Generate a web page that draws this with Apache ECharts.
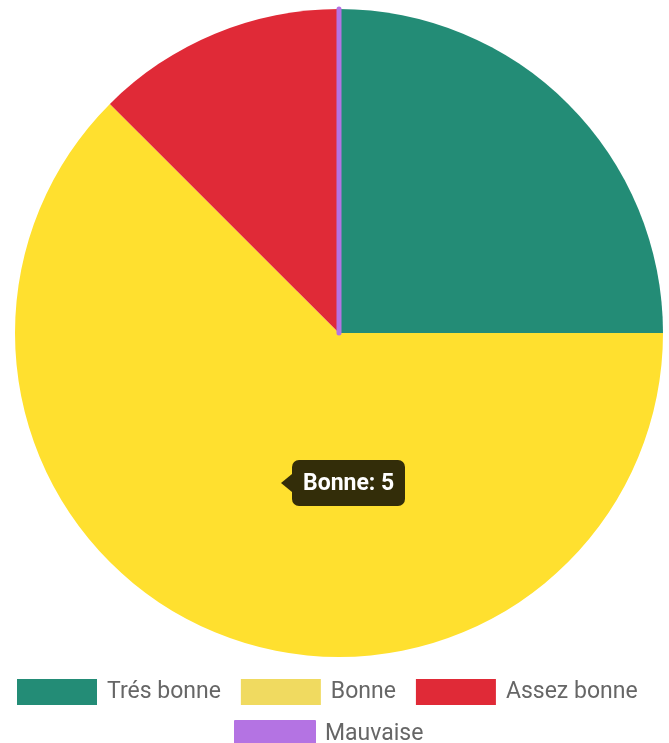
<!DOCTYPE html>
<html>
<head>
<meta charset="utf-8">
<script src="https://cdn.jsdelivr.net/npm/echarts@6/dist/echarts.min.js"></script>
<style>
  html, body { margin: 0; padding: 0; background: #fff; }
  #chart { width: 669px; height: 743px; }
</style>
</head>
<body>
<div id="chart"></div>
<script>
// Ratings and their counts
const categories = ['Trés bonne', 'Bonne', 'Assez bonne', 'Mauvaise'];
const counts = [2, 5, 1, 0];
// Slice colours (Bonne shown in its highlighted shade) and legend swatch colours
const sliceColors = ['#238C76', '#FFE02F', '#E02A37', '#B473E3'];
const legendColors = ['#238C76', '#F0DA60', '#E02A37', '#B473E3'];
const highlighted = 1;

const chart = echarts.init(document.getElementById('chart'), null, { renderer: 'canvas' });

const legendText = { fontFamily: 'Roboto', fontSize: 23, color: '#666', padding: [0, 0, 4, 5] };
const legendItem = i => ({ name: categories[i], itemStyle: { color: legendColors[i] } });

chart.setOption({
  animation: false,
  tooltip: {
    trigger: 'item',
    triggerOn: 'none',
    alwaysShowContent: true,
    transitionDuration: 0,
    backgroundColor: 'transparent',
    borderWidth: 0,
    padding: 0,
    extraCssText: 'box-shadow:none;',
    formatter: p =>
      '<div style="position:relative;margin-left:11px;background:rgba(0,0,0,0.8);border-radius:7px;' +
      'padding:10px 11px;color:#fff;font:bold 23px Roboto, sans-serif;line-height:26px;white-space:nowrap">' +
      p.name + ': ' + p.value +
      '<span style="position:absolute;left:-11px;top:50%;margin-top:-9px;width:0;height:0;border-style:solid;' +
      'border-width:9px 11px 9px 0;border-color:transparent rgba(0,0,0,0.8) transparent transparent"></span></div>',
    position: (point, params, dom, rect, size) => {
      const lay = chart.getModel().getSeriesByIndex(0).getData().getItemLayout(params.dataIndex);
      const mid = (lay.startAngle + lay.endAngle) / 2;
      const x = lay.cx + (lay.r / 2) * Math.cos(mid);
      const y = lay.cy + (lay.r / 2) * Math.sin(mid);
      return [x + 4, y - size.contentSize[1] / 2];
    }
  },
  legend: [
    {
      data: [legendItem(0), legendItem(1), legendItem(2)],
      left: 17, top: 679, padding: 0,
      icon: 'rect', itemWidth: 80, itemHeight: 26, itemGap: 20,
      textStyle: legendText, selectedMode: false
    },
    {
      data: [legendItem(3)],
      left: 234, top: 720, padding: 0,
      icon: 'rect', itemWidth: 80, itemHeight: 26,
      textStyle: legendText, selectedMode: false
    }
  ],
  series: [{
    type: 'pie',
    center: [339, 333],
    radius: [0, 324],
    startAngle: 90,
    clockwise: true,
    label: { show: false },
    labelLine: { show: false },
    emphasis: { disabled: true },
    data: categories.map((name, i) => ({
      name,
      value: counts[i],
      itemStyle: {
        color: sliceColors[i],
        borderColor: sliceColors[i],
        borderWidth: counts[i] === 0 ? 5 : 0
      }
    }))
  }]
});

chart.dispatchAction({ type: 'showTip', seriesIndex: 0, dataIndex: highlighted });
</script>
</body>
</html>
